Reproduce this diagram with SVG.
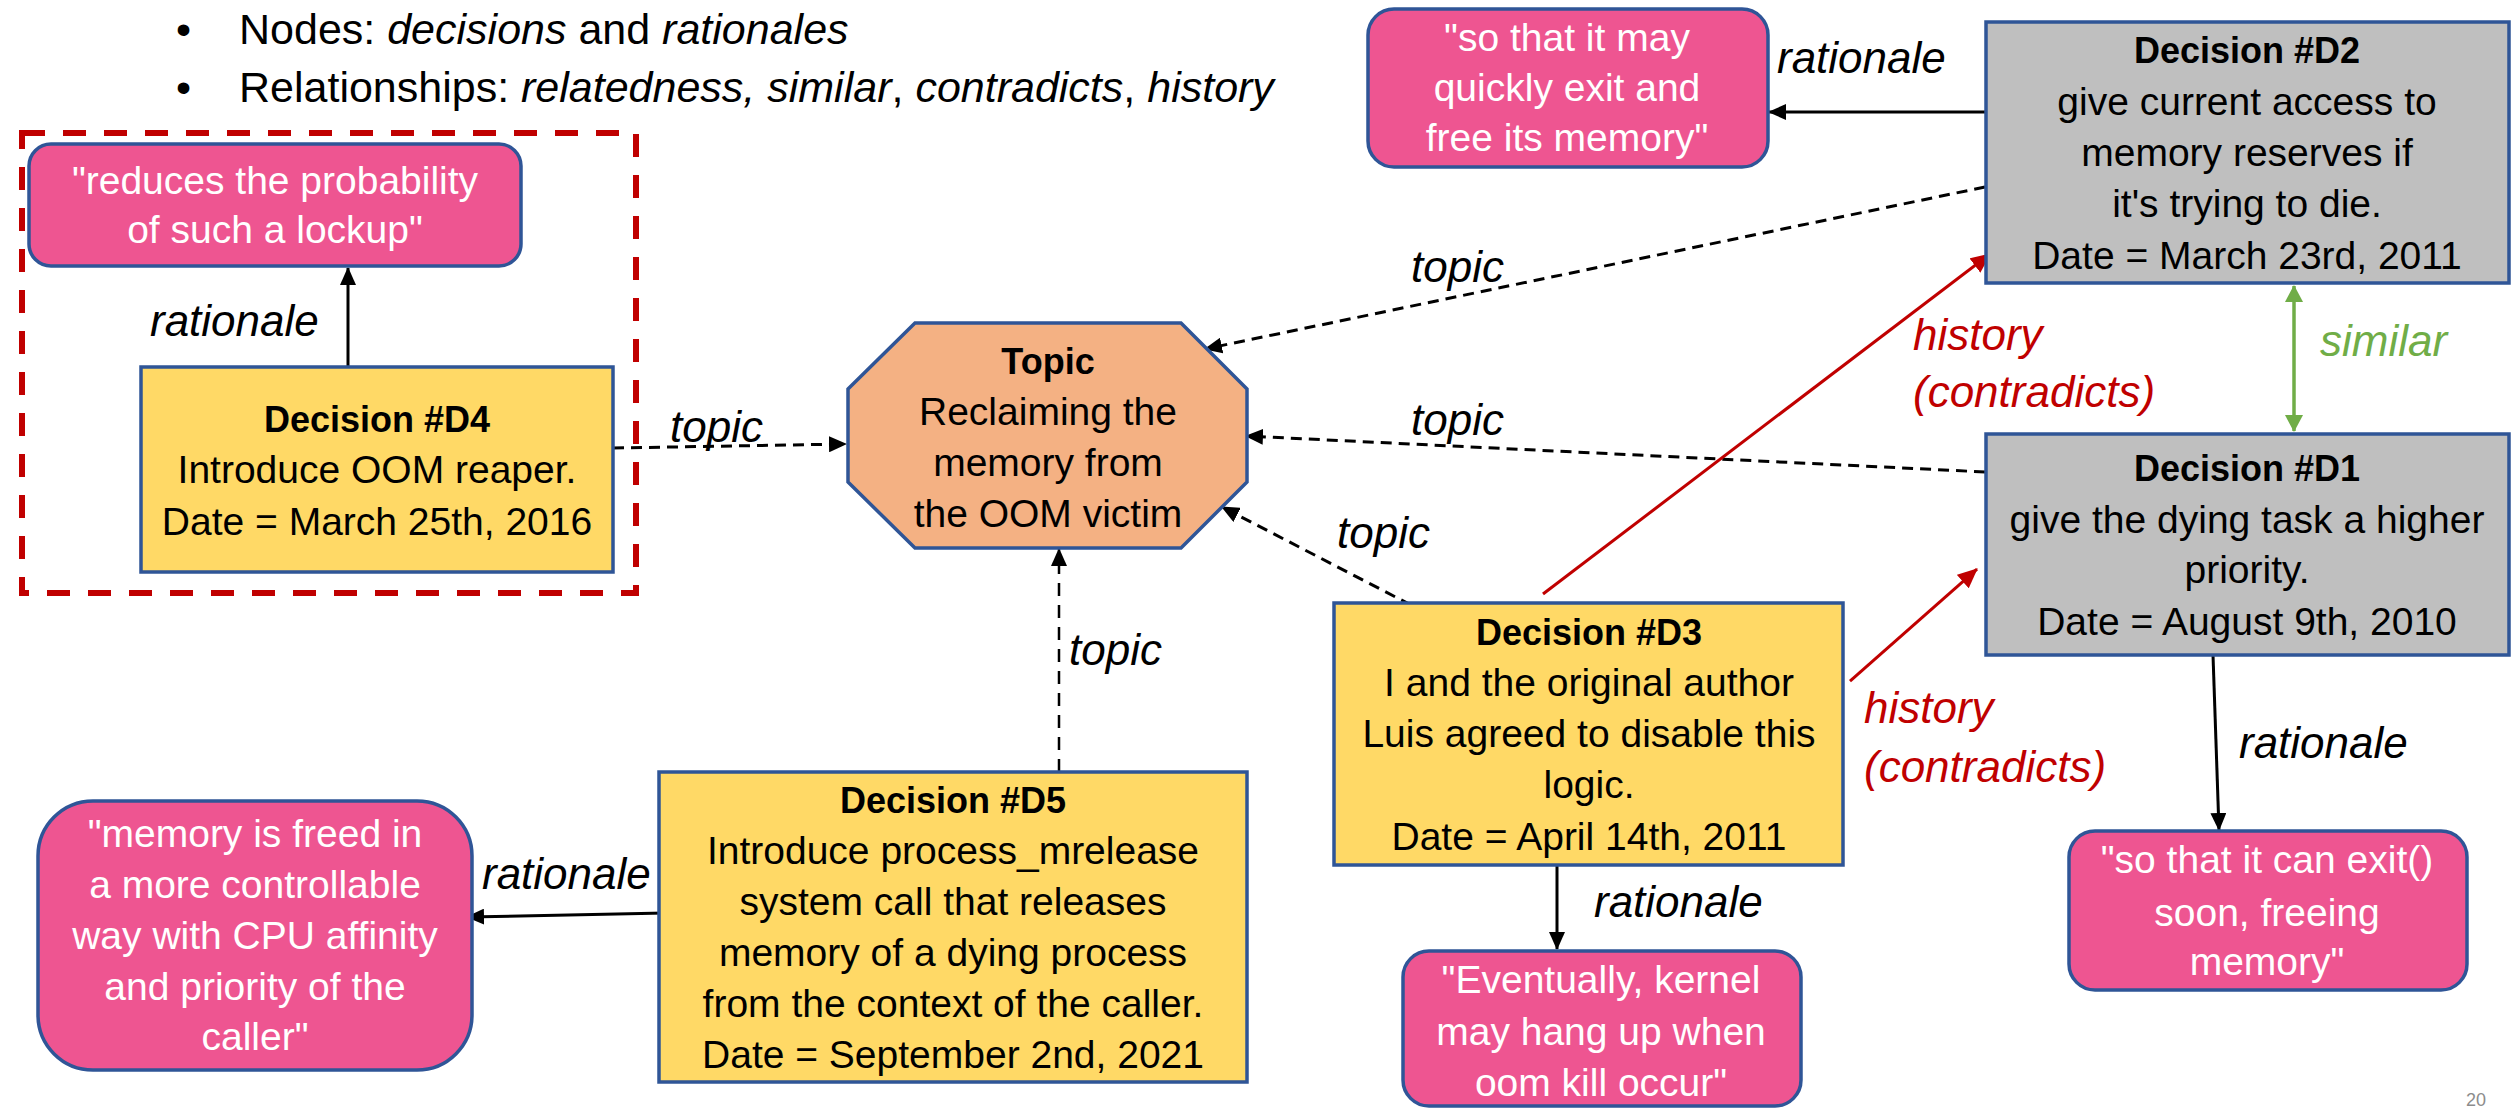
<svg xmlns="http://www.w3.org/2000/svg" width="2511" height="1109" viewBox="0 0 2511 1109">
<defs>
<style>
text{font-family:"Liberation Sans",Arial,sans-serif}
.dec{stroke:#2F5597;stroke-width:3.5}
.yel{fill:#FFD966}
.gry{fill:#BFBFBF}
.pink{fill:#EE5591;stroke:#2F5597;stroke-width:3.5}
.b{font-size:39px;fill:#000;text-anchor:middle}
.h{font-size:36px;font-weight:bold;fill:#000;text-anchor:middle}
.w{font-size:39px;fill:#fff;text-anchor:middle}
.lbl{font-size:44px;font-style:italic;fill:#000}
.bul{font-size:43px;fill:#000}
.solid{stroke:#000;stroke-width:3;fill:none;marker-end:url(#ah)}
.dash{stroke:#000;stroke-width:3;fill:none;stroke-dasharray:11 7;marker-end:url(#ah)}
.red{stroke:#C00000;stroke-width:3;fill:none;marker-end:url(#ahr)}
</style>
<marker id="ah" markerUnits="userSpaceOnUse" markerWidth="18" markerHeight="16" refX="17" refY="8" orient="auto"><path d="M0,0 L18,8 L0,16 z" fill="#000"/></marker>
<marker id="ahr" markerUnits="userSpaceOnUse" markerWidth="20" markerHeight="18" refX="19" refY="9" orient="auto"><path d="M0,0 L20,9 L0,18 z" fill="#C00000"/></marker>
<marker id="ahg" markerUnits="userSpaceOnUse" markerWidth="17" markerHeight="18" refX="16" refY="9" orient="auto"><path d="M0,0 L17,9 L0,18 z" fill="#70AD47"/></marker>
<marker id="ahgs" markerUnits="userSpaceOnUse" markerWidth="17" markerHeight="18" refX="1" refY="9" orient="auto"><path d="M17,0 L0,9 L17,18 z" fill="#70AD47"/></marker>
</defs>
<rect width="2511" height="1109" fill="#fff"/>

<g id="bullets">
<text class="bul" x="176" y="44">•</text>
<text class="bul" x="239" y="44">Nodes: <tspan font-style="italic">decisions</tspan> and <tspan font-style="italic">rationales</tspan></text>
<text class="bul" x="176" y="102">•</text>
<text class="bul" x="239" y="102">Relationships: <tspan font-style="italic">relatedness, similar</tspan>, <tspan font-style="italic">contradicts</tspan>, <tspan font-style="italic">history</tspan></text>
</g>

<g id="highlight">
<rect x="22" y="133" width="614" height="460" fill="none" stroke="#C00000" stroke-width="6" stroke-dasharray="23 18"/>
</g>

<g id="connectors">
<line class="solid" x1="348" y1="367" x2="348" y2="268"/>
<line class="dash" x1="613" y1="448" x2="846" y2="444"/>
<line class="solid" x1="1985" y1="112" x2="1769" y2="112"/>
<line class="dash" x1="1985" y1="187" x2="1205" y2="349"/>
<line class="dash" x1="1985" y1="472" x2="1246" y2="436"/>
<line class="dash" x1="1411" y1="605" x2="1222" y2="507"/>
<line x1="1059" y1="772" x2="1059" y2="549" stroke="#000" stroke-width="2.5" stroke-dasharray="13 9" marker-end="url(#ah)"/>
<line class="solid" x1="665" y1="913" x2="467" y2="917"/>
<line class="solid" x1="1557" y1="865" x2="1557" y2="949"/>
<line class="solid" x1="2213" y1="655" x2="2219" y2="830"/>
<line x1="2294" y1="286" x2="2294" y2="431" stroke="#70AD47" stroke-width="3.5" marker-start="url(#ahgs)" marker-end="url(#ahg)"/>
<line class="red" x1="1543" y1="594" x2="1990" y2="254"/>
<line class="red" x1="1850" y1="681" x2="1977" y2="569"/>
<text class="lbl" x="150" y="336">rationale</text>
<text class="lbl" x="670" y="442">topic</text>
<text class="lbl" x="1777" y="73">rationale</text>
<text class="lbl" x="1411" y="282">topic</text>
<text class="lbl" x="1411" y="435">topic</text>
<text class="lbl" x="1337" y="548">topic</text>
<text class="lbl" x="1069" y="665">topic</text>
<text class="lbl" x="482" y="889">rationale</text>
<text class="lbl" x="1594" y="917">rationale</text>
<text class="lbl" x="2239" y="758">rationale</text>
<text class="lbl" x="2320" y="356" style="fill:#70AD47">similar</text>
<text class="lbl" x="1913" y="350" style="fill:#C00000">history</text>
<text class="lbl" x="1913" y="407" style="fill:#C00000">(contradicts)</text>
<text class="lbl" x="1864" y="723" style="fill:#C00000">history</text>
<text class="lbl" x="1864" y="782" style="fill:#C00000">(contradicts)</text>
</g>

<g id="topic">
<polygon points="915,323 1181,323 1247,389 1247,482 1181,548 915,548 848,482 848,389" fill="#F4B183" stroke="#2F5597" stroke-width="3.5"/>
<text class="h" x="1048" y="374">Topic</text>
<text class="b" x="1048" y="425">Reclaiming the</text>
<text class="b" x="1048" y="476">memory from</text>
<text class="b" x="1048" y="527">the OOM victim</text>
</g>

<g id="d4">
<rect class="dec yel" x="141" y="367" width="472" height="205"/>
<text class="h" x="377" y="432">Decision #D4</text>
<text class="b" x="377" y="483">Introduce OOM reaper.</text>
<text class="b" x="377" y="535">Date = March 25th, 2016</text>
</g>

<g id="r4">
<rect class="pink" x="29" y="144" width="492" height="122" rx="22"/>
<text class="w" x="275" y="194">"reduces the probability</text>
<text class="w" x="275" y="243">of such a lockup"</text>
</g>

<g id="d2">
<rect class="dec gry" x="1986" y="22" width="523" height="261"/>
<text class="h" x="2247" y="63">Decision #D2</text>
<text class="b" x="2247" y="115">give current access to</text>
<text class="b" x="2247" y="166">memory reserves if</text>
<text class="b" x="2247" y="217">it's trying to die.</text>
<text class="b" x="2247" y="269">Date = March 23rd, 2011</text>
</g>

<g id="r2">
<rect class="pink" x="1368" y="9" width="400" height="158" rx="26"/>
<text class="w" x="1567" y="51">"so that it may</text>
<text class="w" x="1567" y="101">quickly exit and</text>
<text class="w" x="1567" y="151">free its memory"</text>
</g>

<g id="d1">
<rect class="dec gry" x="1986" y="434" width="523" height="221"/>
<text class="h" x="2247" y="481">Decision #D1</text>
<text class="b" x="2247" y="533">give the dying task a higher</text>
<text class="b" x="2247" y="583">priority.</text>
<text class="b" x="2247" y="635">Date = August 9th, 2010</text>
</g>

<g id="r1">
<rect class="pink" x="2069" y="831" width="398" height="159" rx="26"/>
<text class="w" x="2267" y="873">"so that it can exit()</text>
<text class="w" x="2267" y="926">soon, freeing</text>
<text class="w" x="2267" y="975">memory"</text>
</g>

<g id="d3">
<rect class="dec yel" x="1334" y="603" width="509" height="262"/>
<text class="h" x="1589" y="645">Decision #D3</text>
<text class="b" x="1589" y="696">I and the original author</text>
<text class="b" x="1589" y="747">Luis agreed to disable this</text>
<text class="b" x="1589" y="798">logic.</text>
<text class="b" x="1589" y="850">Date = April 14th, 2011</text>
</g>

<g id="r3">
<rect class="pink" x="1403" y="951" width="398" height="155" rx="26"/>
<text class="w" x="1601" y="993">"Eventually, kernel</text>
<text class="w" x="1601" y="1045">may hang up when</text>
<text class="w" x="1601" y="1096">oom kill occur"</text>
</g>

<g id="d5">
<rect class="dec yel" x="659" y="772" width="588" height="310"/>
<text class="h" x="953" y="813">Decision #D5</text>
<text class="b" x="953" y="864">Introduce process_mrelease</text>
<text class="b" x="953" y="915">system call that releases</text>
<text class="b" x="953" y="966">memory of a dying process</text>
<text class="b" x="953" y="1017">from the context of the caller.</text>
<text class="b" x="953" y="1068">Date = September 2nd, 2021</text>
</g>

<g id="r5">
<rect class="pink" x="38" y="801" width="434" height="269" rx="55"/>
<text class="w" x="255" y="847">"memory is freed in</text>
<text class="w" x="255" y="898">a more controllable</text>
<text class="w" x="255" y="949">way with CPU affinity</text>
<text class="w" x="255" y="1000">and priority of the</text>
<text class="w" x="255" y="1050">caller"</text>
</g>

<text x="2466" y="1106" font-size="18" fill="#8C8C8C">20</text>
</svg>
